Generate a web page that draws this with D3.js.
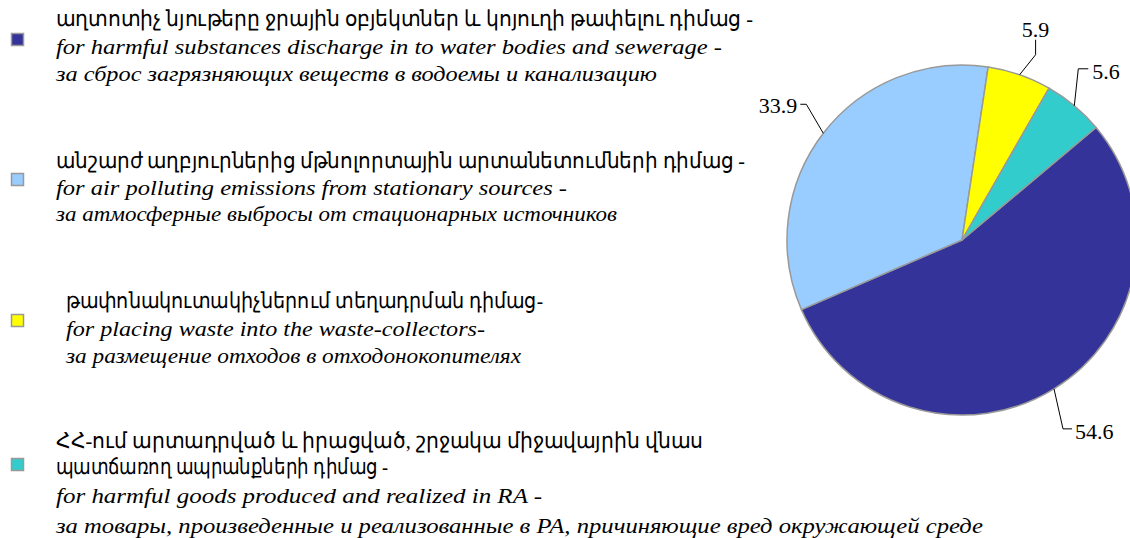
<!DOCTYPE html>
<html><head><meta charset="utf-8">
<script src="https://cdn.jsdelivr.net/npm/d3@7"></script>
</head><body style="margin:0">
<svg id="c" width="1130" height="538" font-family="Times New Roman" font-size="22"></svg>
<script>
const categories = ["water", "air", "waste", "goods"];
const values = [54.6, 33.9, 5.9, 5.6];
const valueLabels = ["54.6", "33.9", "5.9", "5.6"];
const colors = ["#333399", "#99CCFF", "#FFFF00", "#33CCCC"];
const legendLines = [
  [["աղտոտիչ նյութերը ջրային օբյեկտներ և կոյուղի թափելու դիմաց -", false],
   ["for harmful substances discharge in to water bodies and sewerage -", true],
   ["за сброс загрязняющих веществ в водоемы и канализацию", true]],
  [["անշարժ աղբյուրներից մթնոլորտային արտանետումների դիմաց -", false],
   ["for air polluting emissions from stationary sources -", true],
   ["за атмосферные выбросы от стационарных источников", true]],
  [["թափոնակուտակիչներում տեղադրման դիմաց-", false],
   ["for placing waste into the waste-collectors-", true],
   ["за размещение отходов в отходонокопителях", true]],
  [["ՀՀ-ում արտադրված և իրացված, շրջակա միջավայրին վնաս", false],
   ["պատճառող ապրանքների դիմաց -", false],
   ["for harmful goods produced and realized in RA -", true],
   ["за товары, произведенные и реализованные в РА, причиняющие вред окружающей среде", true]]
];

// layout
const svg = d3.select("#c");
const cx = 962, cy = 240, R = 175;
const startDeg = 50;
const legendX = [56, 56, 66, 56];
const legendY = [[18, 46, 73], [160, 187, 213], [300, 328, 355], [440, 466, 495, 525]];
const legendW = [[697, 666, 601], [689, 511, 561], [477, 419, 455], [647, 332, 486, 927]];
const squareY = [40, 180, 321, 465];

// legend
legendLines.forEach((lines, i) => {
  svg.append("rect").attr("x", 11.5).attr("y", squareY[i] - 6.5).attr("width", 12).attr("height", 12)
    .attr("fill", colors[i]).attr("stroke", "#999").attr("stroke-width", 1.5);
  lines.forEach((ln, j) => {
    svg.append("text")
      .attr("font-style", ln[1] ? "italic" : "normal")
      .attr("x", legendX[i]).attr("y", legendY[i][j]).attr("dy", "0.35em")
      .attr("textLength", legendW[i][j]).attr("lengthAdjust", "spacingAndGlyphs")
      .text(ln[0]);
  });
});

// pie
const pie = d3.pie().sort(null).value(d => d)
  .startAngle(startDeg * Math.PI / 180).endAngle((startDeg + 360) * Math.PI / 180);
const arcs = pie(values);
const arc = d3.arc().innerRadius(0).outerRadius(R);
const g = svg.append("g").attr("transform", `translate(${cx},${cy})`);
g.selectAll("path").data(arcs).join("path")
  .attr("d", arc).attr("fill", (d, i) => colors[i])
  .attr("stroke", "#999").attr("stroke-width", 1.5).attr("stroke-linejoin", "round");

// leader lines: elbow and end offsets relative to edge anchor
const elbow = [[9, 40], [-17, -29], [16, -20], [4, -37]];
const endOff = [[18, 40], [-23, -29], [16, -35], [14, -37]];
const labelAnchor = ["start", "end", "middle", "start"];
const labelOff = [[21, 42], [-26, -28], [16, -45], [18, -35]];
arcs.forEach((a, i) => {
  const m = (a.startAngle + a.endAngle) / 2;
  const ax = Math.sin(m) * R, ay = -Math.cos(m) * R;
  const ex = ax + elbow[i][0], ey = ay + elbow[i][1];
  const fx = ax + endOff[i][0], fy = ay + endOff[i][1];
  g.append("path").attr("d", d3.line()([[ax, ay], [ex, ey], [fx, fy]]))
    .attr("fill", "none").attr("stroke", "#000").attr("stroke-width", 1);
  g.append("text").attr("x", ax + labelOff[i][0]).attr("y", ay + labelOff[i][1]).attr("dy", "0.35em")
    .attr("text-anchor", labelAnchor[i]).text(valueLabels[i]);
});
</script>
</body></html>
